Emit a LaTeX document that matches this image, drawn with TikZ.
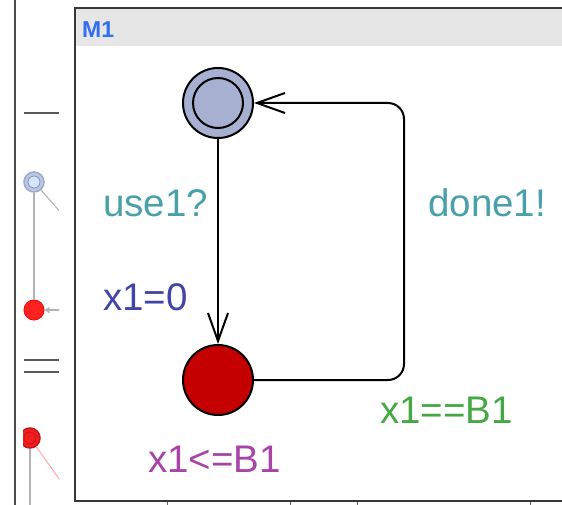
\documentclass[tikz,border=0pt]{standalone}
\usepackage{fontspec}
\setmainfont{Liberation Sans}
\usetikzlibrary{arrows.meta}
\definecolor{locblue}{RGB}{168,176,210}
\definecolor{locred}{RGB}{196,0,0}
\definecolor{synccol}{RGB}{72,160,168}
\definecolor{assigncol}{RGB}{68,68,168}
\definecolor{guardcol}{RGB}{68,168,68}
\definecolor{invcol}{RGB}{168,68,168}
\definecolor{titleblue}{RGB}{50,110,240}
\definecolor{framegrey}{RGB}{55,55,55}
\definecolor{barfill}{RGB}{230,230,230}
\begin{document}
\begin{tikzpicture}[x=1pt,y=-1pt,
  loc/.style={circle,draw=black,line width=2pt,minimum size=70pt,inner sep=0pt},
  innerloc/.style={circle,draw=black,line width=2pt,minimum size=50pt,inner sep=0pt},
  edgeline/.style={line width=2pt,-{Straight Barb[length=28pt,width=20pt,line width=2pt]}},
  lbl/.style={font=\fontsize{38.5}{40}\selectfont,anchor=base west,inner sep=0pt},
  sep/.style={draw=black!65,line width=2.2pt},
  faint/.style={draw=black!30,line width=1.6pt}]
\useasboundingbox (0,0) rectangle (562,505);
\fill[white] (0,0) rectangle (562,505);
% left strip (other window)
\draw[draw=black!70,line width=2pt] (15,0) -- (15,505);
\begin{scope}
\clip (23,0) rectangle (59,505);
\draw[sep] (24,113) -- (59,113);
\draw[sep] (24,360) -- (59,360);
\draw[sep] (24,372) -- (59,372);
\node[circle,fill={rgb,255:red,185;green,200;blue,232},draw={rgb,255:red,160;green,170;blue,195},line width=1.5pt,minimum size=20pt,inner sep=0pt] (sa) at (34,182) {};
\node[circle,fill={rgb,255:red,215;green,228;blue,250},draw={rgb,255:red,130;green,145;blue,180},line width=0.8pt,minimum size=12pt,inner sep=0pt] at (34,182) {};
\node[circle,fill={rgb,255:red,255;green,32;blue,32},draw={rgb,255:red,225;green,20;blue,20},line width=1pt,minimum size=20pt,inner sep=0pt] (sb) at (34,310) {};
\coordinate (sd) at (62,214);
\coordinate (se) at (62,310);
\draw[faint] (sb) -- (sa);
\draw[faint,line width=1pt] (sa) -- (sd);
\draw[faint,line width=1.2pt,-{Straight Barb[length=4pt,width=5pt]}] (se) -- (sb);
\node[circle,fill={rgb,255:red,240;green,30;blue,30},draw={rgb,255:red,200;green,20;blue,20},line width=1.5pt,minimum size=20pt,inner sep=0pt] (sc) at (30,438) {};
\node[circle,draw={rgb,255:red,200;green,20;blue,20},line width=0.8pt,minimum size=12pt,inner sep=0pt] at (30,438) {};
\coordinate (sf) at (30,505);
\coordinate (sg) at (60,480);
\draw[faint] (sc) -- (sf);
\draw[draw={rgb,255:red,255;green,170;blue,170},line width=1pt] (sc) -- (sg);
\end{scope}
% window
\fill[barfill] (76,9) rectangle (562,46);
\draw[draw=framegrey,line width=1.8pt] (562,8) -- (75,8) -- (75,501) -- (562,501);
\node[font=\fontsize{23}{25}\selectfont\bfseries,text=titleblue,anchor=base west,inner sep=0pt] (title) at (82,38) {M1};
% ticks below frame
\foreach \tx in {167,290,357,530} \draw[black!60,line width=1pt] (\tx,502) -- (\tx,505);
% locations
\node[loc,fill=locblue] (idle) at (218,103) {};
\node[innerloc] (idlein) at (218,103) {};
\node[loc,fill=locred] (busy) at (218,380) {};
\coordinate (cbr) at (404,380);
\coordinate (ctr) at (404,103);
% edges
\draw[edgeline] (idle) -- (busy);
\draw[edgeline,rounded corners=16pt] (busy.east) -- (cbr) -- (ctr) -- (idle.east);
% labels
\node[lbl,text=synccol] (l1) at (103,217) {use1?};
\node[lbl,text=assigncol] (l2) at (103,310) {x1=0};
\node[lbl,text=synccol] (l3) at (428,217) {done1!};
\node[lbl,text=guardcol] (l4) at (380,423) {x1==B1};
\node[lbl,text=invcol] (l5) at (148,472) {x1<=B1};
\end{tikzpicture}
\end{document}
